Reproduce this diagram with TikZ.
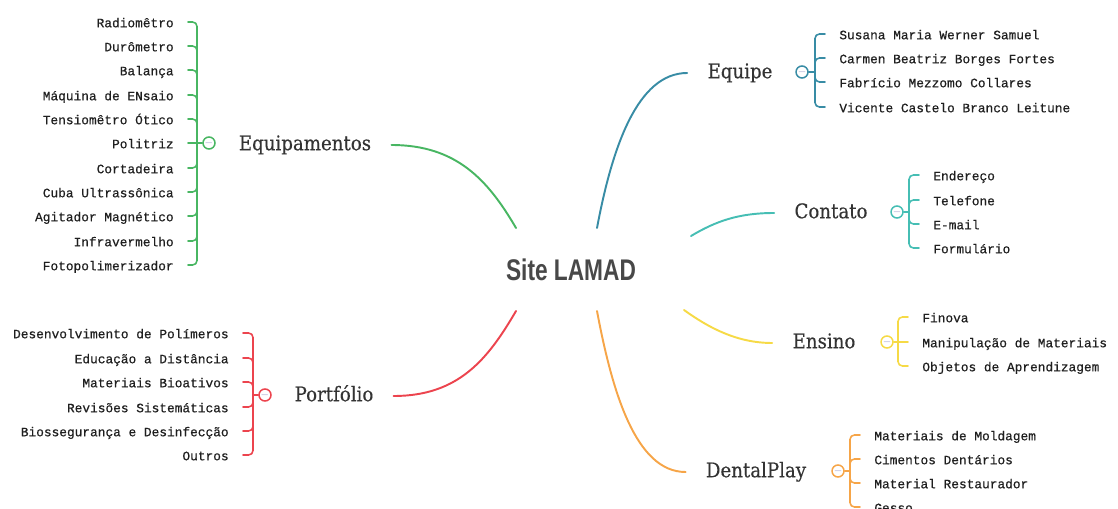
\documentclass[tikz,border=0pt]{standalone}
\usepackage{fontspec}
\setmainfont{DejaVu Serif}
\newfontfamily\rootfont[FakeStretch=0.76]{Liberation Sans}
\newfontfamily\branchfont[FakeStretch=0.9,FakeBold=0.3]{DejaVu Serif}
\newfontfamily\leaffont[FakeBold=0.5]{Liberation Mono}
\usetikzlibrary{positioning}
\definecolor{cEquip}{RGB}{72,182,98}
\definecolor{cPort}{RGB}{236,68,78}
\definecolor{cTeam}{RGB}{56,140,165}
\definecolor{cCont}{RGB}{70,190,180}
\definecolor{cEns}{RGB}{246,218,70}
\definecolor{cDent}{RGB}{246,165,72}
\definecolor{txt}{RGB}{72,72,72}

\begin{document}
\begin{tikzpicture}[x=0.02cm,y=-0.02cm,
  rnode/.style={font=\rootfont\bfseries\fontsize{17}{17}\selectfont,text=txt},
  bnode/.style={font=\branchfont\fontsize{11.5}{12}\selectfont,text=black!80,inner xsep=0.4cm,inner ysep=2pt,text height=1.6ex,text depth=0.45ex},
  lnode/.style={font=\leaffont\fontsize{7.3}{8}\selectfont,text=black!88,inner xsep=0.28cm,inner ysep=1pt,text height=1.6ex,text depth=0.45ex},
  tnode/.style={draw=#1,circle,line width=0.85pt,inner sep=0pt,minimum size=0.24cm,fill=white,font=\fontsize{5}{5}\selectfont,text=blue!30!gray!60},
  mline/.style={draw=#1,line width=1.1pt,line cap=round},
  bline/.style={draw=#1,line width=0.9pt,rounded corners=2.5pt,line cap=round}]
  \useasboundingbox (0,0) rectangle (1118,509);
  \node[rnode] (root) at (571,270) {Site LAMAD};
  \coordinate (r1) at (516,228);
  \coordinate (r2) at (516,311);
  \coordinate (r3) at (597,228);
  \coordinate (r4) at (691,236);
  \coordinate (r5) at (684,310);
  \coordinate (r6) at (597,311);
  \node[bnode] (equip) at (305,145) {Equipamentos};
  \node[bnode] (port) at (334,396) {Portfólio};
  \node[bnode] (team) at (740,73) {Equipe};
  \node[bnode] (cont) at (831,213) {Contato};
  \node[bnode] (ens) at (824,343) {Ensino};
  \node[bnode] (dent) at (756,472) {DentalPlay};
  \node[tnode=cEquip] (equipT) at (209,143) {$-$};
  \node[tnode=cPort] (portT) at (265,395) {$-$};
  \node[tnode=cTeam] (teamT) at (802,72) {$-$};
  \node[tnode=cCont] (contT) at (897,212) {$-$};
  \node[tnode=cEns] (ensT) at (887,342) {$-$};
  \node[tnode=cDent] (dentT) at (838,471) {$-$};
  \coordinate (equipJ) at (197,143);
  \coordinate (portJ) at (253,395);
  \coordinate (teamJ) at (815,72);
  \coordinate (contJ) at (909,212);
  \coordinate (ensJ) at (898,342);
  \coordinate (dentJ) at (850,471);
  \node[lnode,anchor=east] (equip1) at (188,22) {Radiomêtro};
  \node[lnode,anchor=east] (equip2) at (188,46) {Durômetro};
  \node[lnode,anchor=east] (equip3) at (188,70) {Balança};
  \node[lnode,anchor=east] (equip4) at (188,95) {Máquina de ENsaio};
  \node[lnode,anchor=east] (equip5) at (188,119) {Tensiomêtro Ótico};
  \node[lnode,anchor=east] (equip6) at (188,143) {Politriz};
  \node[lnode,anchor=east] (equip7) at (188,168) {Cortadeira};
  \node[lnode,anchor=east] (equip8) at (188,192) {Cuba Ultrassônica};
  \node[lnode,anchor=east] (equip9) at (188,216) {Agitador Magnético};
  \node[lnode,anchor=east] (equip10) at (188,241) {Infravermelho};
  \node[lnode,anchor=east] (equip11) at (188,265) {Fotopolimerizador};
  \node[lnode,anchor=east] (port1) at (243,333) {Desenvolvimento de Polímeros};
  \node[lnode,anchor=east] (port2) at (243,358) {Educação a Distância};
  \node[lnode,anchor=east] (port3) at (243,382) {Materiais Bioativos};
  \node[lnode,anchor=east] (port4) at (243,407) {Revisões Sistemáticas};
  \node[lnode,anchor=east] (port5) at (243,431) {Biossegurança e Desinfecção};
  \node[lnode,anchor=east] (port6) at (243,455) {Outros};
  \node[lnode,anchor=west] (team1) at (825,34) {Susana Maria Werner Samuel};
  \node[lnode,anchor=west] (team2) at (825,58) {Carmen Beatriz Borges Fortes};
  \node[lnode,anchor=west] (team3) at (825,82) {Fabrício Mezzomo Collares};
  \node[lnode,anchor=west] (team4) at (825,107) {Vicente Castelo Branco Leitune};
  \node[lnode,anchor=west] (cont1) at (919,175) {Endereço};
  \node[lnode,anchor=west] (cont2) at (919,200) {Telefone};
  \node[lnode,anchor=west] (cont3) at (919,224) {E-mail};
  \node[lnode,anchor=west] (cont4) at (919,248) {Formulário};
  \node[lnode,anchor=west] (ens1) at (908,317) {Finova};
  \node[lnode,anchor=west] (ens2) at (908,342) {Manipulação de Materiais};
  \node[lnode,anchor=west] (ens3) at (908,366) {Objetos de Aprendizagem};
  \node[lnode,anchor=west] (dent1) at (860,435) {Materiais de Moldagem};
  \node[lnode,anchor=west] (dent2) at (860,459) {Cimentos Dentários};
  \node[lnode,anchor=west] (dent3) at (860,483) {Material Restaurador};
  \node[lnode,anchor=west] (dent4) at (860,507) {Gesso};
  \draw[mline=cEquip] (r1) .. controls +(-28,-48) and +(65,0) .. (equip.east);
  \draw[mline=cPort] (r2) .. controls +(-28,48) and +(65,0) .. (port.east);
  \draw[mline=cTeam] (r3) .. controls +(15,-80) and +(-50,0) .. (team.west);
  \draw[mline=cCont] (r4) .. controls +(25,-15) and +(-35,0) .. (cont.west);
  \draw[mline=cEns] (r5) .. controls +(25,18) and +(-35,0) .. (ens.west);
  \draw[mline=cDent] (r6) .. controls +(15,80) and +(-50,0) .. (dent.west);
  \draw[bline=cEquip] (equipT.west) -- (equipJ);
  \draw[bline=cEquip] (equipJ) |- (equip1.east);
  \draw[bline=cEquip] (equipJ) |- (equip2.east);
  \draw[bline=cEquip] (equipJ) |- (equip3.east);
  \draw[bline=cEquip] (equipJ) |- (equip4.east);
  \draw[bline=cEquip] (equipJ) |- (equip5.east);
  \draw[bline=cEquip] (equipJ) -- (equip6.east);
  \draw[bline=cEquip] (equipJ) |- (equip7.east);
  \draw[bline=cEquip] (equipJ) |- (equip8.east);
  \draw[bline=cEquip] (equipJ) |- (equip9.east);
  \draw[bline=cEquip] (equipJ) |- (equip10.east);
  \draw[bline=cEquip] (equipJ) |- (equip11.east);
  \draw[bline=cPort] (portT.west) -- (portJ);
  \draw[bline=cPort] (portJ) |- (port1.east);
  \draw[bline=cPort] (portJ) |- (port2.east);
  \draw[bline=cPort] (portJ) |- (port3.east);
  \draw[bline=cPort] (portJ) |- (port4.east);
  \draw[bline=cPort] (portJ) |- (port5.east);
  \draw[bline=cPort] (portJ) |- (port6.east);
  \draw[bline=cTeam] (teamT.east) -- (teamJ);
  \draw[bline=cTeam] (teamJ) |- (team1.west);
  \draw[bline=cTeam] (teamJ) |- (team2.west);
  \draw[bline=cTeam] (teamJ) |- (team3.west);
  \draw[bline=cTeam] (teamJ) |- (team4.west);
  \draw[bline=cCont] (contT.east) -- (contJ);
  \draw[bline=cCont] (contJ) |- (cont1.west);
  \draw[bline=cCont] (contJ) |- (cont2.west);
  \draw[bline=cCont] (contJ) |- (cont3.west);
  \draw[bline=cCont] (contJ) |- (cont4.west);
  \draw[bline=cEns] (ensT.east) -- (ensJ);
  \draw[bline=cEns] (ensJ) |- (ens1.west);
  \draw[bline=cEns] (ensJ) -- (ens2.west);
  \draw[bline=cEns] (ensJ) |- (ens3.west);
  \draw[bline=cDent] (dentT.east) -- (dentJ);
  \draw[bline=cDent] (dentJ) |- (dent1.west);
  \draw[bline=cDent] (dentJ) |- (dent2.west);
  \draw[bline=cDent] (dentJ) |- (dent3.west);
  \draw[bline=cDent] (dentJ) |- (dent4.west);
\end{tikzpicture}
\end{document}
